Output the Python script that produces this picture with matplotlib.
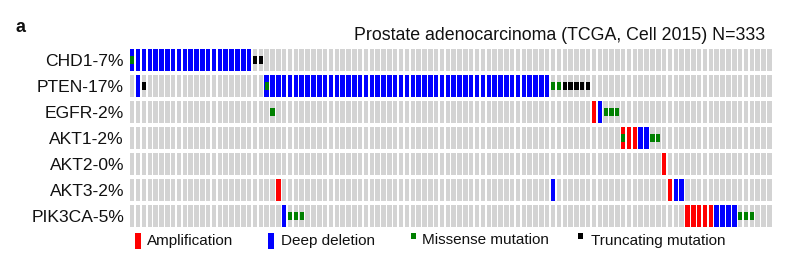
import matplotlib
matplotlib.use("Agg")
import matplotlib.pyplot as plt
from matplotlib.patches import Rectangle

plt.rcParams['font.family'] = ['Liberation Sans', 'DejaVu Sans']

# ---------------- data ----------------
genes = ["CHD1", "PTEN", "EGFR", "AKT1", "AKT2", "AKT3", "PIK3CA"]
altered_pct = [7, 17, 2, 2, 0, 2, 5]
n_samples_shown = 110
title = "Prostate adenocarcinoma (TCGA, Cell 2015) N=333"

# sample (column) indices per gene for each alteration type
amp_cols = [
    [],
    [],
    [79],
    [84, 85, 86],
    [91],
    [25, 92],
    [95, 96, 97, 98, 99],
]
del_cols = [
    [0, 1, 2, 3, 4, 5, 6, 7, 8, 9, 10, 11, 12, 13, 14, 15, 16, 17, 18, 19, 20],
    [1, 23, 24, 25, 26, 27, 28, 29, 30, 31, 32, 33, 34, 35, 36, 37, 38, 39, 40,
     41, 42, 43, 44, 45, 46, 47, 48, 49, 50, 51, 52, 53, 54, 55, 56, 57, 58,
     59, 60, 61, 62, 63, 64, 65, 66, 67, 68, 69, 70, 71],
    [80],
    [87, 88],
    [],
    [72, 93, 94],
    [26, 100, 101, 102, 103],
]
missense_cols = [
    [0],
    [23, 72, 73],
    [24, 81, 82, 83],
    [84, 89, 90],
    [],
    [],
    [27, 28, 29, 104, 105, 106],
]
truncating_cols = [
    [21, 22],
    [2, 74, 75, 76, 77, 78],
    [],
    [],
    [],
    [],
    [],
]
legend_labels = ["Amplification", "Deep deletion", "Missense mutation", "Truncating mutation"]

# ---------------- style ----------------
C_GREY = "#d3d3d3"
C_AMP = "#ff0000"
C_DEL = "#0000ff"
C_MIS = "#008000"
C_TRUNC = "#000000"
BAR_W = 0.77
BAR_H = 0.81
MUT_W = 0.72
MUT_H = 0.28

W, H = 788, 259
fig = plt.figure(figsize=(W / 100, H / 100), dpi=100)

# axes geometry in pixels
pitch = 5.845
x_left = 129.3
x_right = x_left + n_samples_shown * pitch
row_pitch = 26.0
y_top = 47.0
y_bot = y_top + len(genes) * row_pitch
ax = fig.add_axes([x_left / W, 1 - y_bot / H, (x_right - x_left) / W, (y_bot - y_top) / H])
ax.set_xlim(-0.5, n_samples_shown - 0.5)
ax.set_ylim(len(genes) - 0.5, -0.5)
for s in ax.spines.values():
    s.set_visible(False)
ax.set_xticks([])

samples = list(range(n_samples_shown))
for r, g in enumerate(genes):
    ax.bar(samples, BAR_H, width=BAR_W, bottom=r - BAR_H / 2, color=C_GREY, linewidth=0)
    if amp_cols[r]:
        ax.bar(amp_cols[r], BAR_H, width=BAR_W, bottom=r - BAR_H / 2, color=C_AMP, linewidth=0)
    if del_cols[r]:
        ax.bar(del_cols[r], BAR_H, width=BAR_W, bottom=r - BAR_H / 2, color=C_DEL, linewidth=0)
    if missense_cols[r]:
        ax.bar(missense_cols[r], MUT_H, width=MUT_W, bottom=r - MUT_H / 2, color=C_MIS, linewidth=0)
    if truncating_cols[r]:
        ax.bar(truncating_cols[r], MUT_H, width=MUT_W, bottom=r - MUT_H / 2, color=C_TRUNC, linewidth=0)

ax.set_yticks(range(len(genes)))
ax.set_yticklabels([f"{g}-{p}%" for g, p in zip(genes, altered_pct)], fontsize=12.6, color="#111111")
ax.tick_params(axis="y", length=0, pad=3.8)

# title and panel letter
fig.text(765 / W, 1 - 35.5 / H, title, ha="right", va="center", fontsize=12.8, color="#111111")
fig.text(15 / W, 1 - 27 / H, "a", ha="left", va="center", fontsize=13, fontweight="bold", color="#111111")

# legend (figure pixel coordinates)
def px_rect(x, y, w, h, color):
    fig.patches.append(Rectangle((x / W, 1 - (y + h) / H), w / W, h / H,
                                 transform=fig.transFigure, color=color, linewidth=0))

leg_y_text = 240.5
px_rect(135, 232.5, 5.5, 16.5, C_AMP)
fig.text(147 / W, 1 - leg_y_text / H, legend_labels[0], ha="left", va="center", fontsize=11, color="#111111")
px_rect(268, 232.5, 5.5, 16.5, C_DEL)
fig.text(281 / W, 1 - leg_y_text / H, legend_labels[1], ha="left", va="center", fontsize=11, color="#111111")
px_rect(411, 233, 5, 6, C_MIS)
fig.text(422 / W, 1 - leg_y_text / H, legend_labels[2], ha="left", va="center", fontsize=11, color="#111111")
px_rect(577.5, 233, 5, 6, C_TRUNC)
fig.text(591 / W, 1 - leg_y_text / H, legend_labels[3], ha="left", va="center", fontsize=11, color="#111111")

fig.savefig("out.png", dpi=100)
